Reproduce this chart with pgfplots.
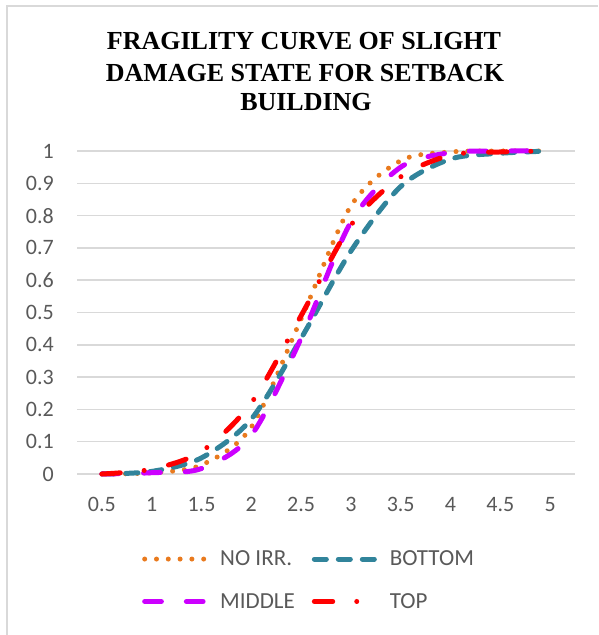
\documentclass[border=0pt]{standalone}
\usepackage{pgfplots}
\pgfplotsset{compat=1.18}
\usepackage{fontspec}
\setmainfont{Carlito}
\newfontfamily\titlefont{Liberation Serif}
\definecolor{cOrange}{HTML}{E97A1E}
\definecolor{cTeal}{HTML}{31849B}
\definecolor{cMag}{HTML}{CC00FF}
\definecolor{cRed}{HTML}{FF0000}
\definecolor{cGrid}{HTML}{D9D9D9}
\definecolor{cText}{HTML}{595959}
\begin{document}
\begin{tikzpicture}[x=1pt,y=1pt]
\path[use as bounding box] (0,0) rectangle (598,635);
\draw[cGrid, line width=1.5pt] (7,0) -- (7,629) -- (598,629);
\node[anchor=base, font=\titlefont\bfseries\fontsize{26}{30}\selectfont] at (304,585) {FRAGILITY CURVE OF SLIGHT};
\node[anchor=base, font=\titlefont\bfseries\fontsize{26}{30}\selectfont] at (305,553.5) {DAMAGE STATE FOR SETBACK};
\node[anchor=base, font=\titlefont\bfseries\fontsize{26}{30}\selectfont] at (306,524.5) {BUILDING};
\begin{axis}[
  at={(77pt,161pt)}, anchor=south west,
  scale only axis, width=498pt, height=323pt,
  xmin=0.25, xmax=5.25, ymin=0, ymax=1,
  xtick={0.5,1,1.5,2,2.5,3,3.5,4,4.5,5},
  xticklabels={0.5,1,1.5,2,2.5,3,3.5,4,4.5,5},
  ytick={0,0.1,0.2,0.3,0.4,0.5,0.6,0.7,0.8,0.9,1},
  yticklabels={0,0.1,0.2,0.3,0.4,0.5,0.6,0.7,0.8,0.9,1},
  major tick length=0pt,
  axis line style={draw=none},
  ymajorgrids, grid style={cGrid, line width=1.5pt},
  tick label style={font=\fontsize{22}{26}\selectfont, text=cText},
  yticklabel style={anchor=east, inner sep=0pt, xshift=-23pt},
  xticklabel style={anchor=north, inner sep=0pt, yshift=-23pt},
  clip=false,
  legend columns=2,
  legend cell align=left,
  legend image code/.code={\draw[#1] (2pt,0pt) -- (62pt,0pt);},
  legend style={at={(axis description cs:0.1305,-0.329)}, anchor=west, draw=none, fill=none,
    inner sep=0pt, font=\fontsize{23}{27}\selectfont, text=cText, row sep=26pt,
    nodes={inner sep=0pt},
    /tikz/every odd column/.append style={column sep=13pt},
    /tikz/every even column/.append style={column sep=17pt}},
  every axis plot/.append style={line width=5pt, line cap=round, smooth, tension=0.5}
]
\addplot[cOrange, dash pattern=on 0pt off 11.8pt] coordinates {
(0.5,0) (1,0.004) (1.5,0.028) (2,0.145) (2.5,0.48) (3,0.83) (3.5,0.97) (4,0.997) (4.5,1) (5,1)};
\addlegendentry{NO IRR.}
\addplot[cTeal, dash pattern=on 12pt off 12pt] coordinates {
(0.5,0) (1,0.008) (1.5,0.05) (2,0.17) (2.5,0.42) (3,0.69) (3.5,0.89) (4,0.975) (4.5,0.993) (5,1)};
\addlegendentry{BOTTOM}
\addplot[cMag, dash pattern=on 16.7pt off 25pt] coordinates {
(0.5,0) (1,0.004) (1.5,0.017) (2,0.12) (2.5,0.42) (3,0.78) (3.5,0.95) (4,0.995) (4.5,1) (5,1)};
\addlegendentry{MIDDLE}
\addplot[cRed, dash pattern=on 18.4pt off 24pt on 0pt off 25pt] coordinates {
(0.5,0) (1,0.015) (1.5,0.07) (2,0.22) (2.5,0.49) (3,0.77) (3.5,0.92) (4,0.987) (4.5,0.997) (5,1)};
\addlegendentry{TOP}
\end{axis}
\end{tikzpicture}
\end{document}
